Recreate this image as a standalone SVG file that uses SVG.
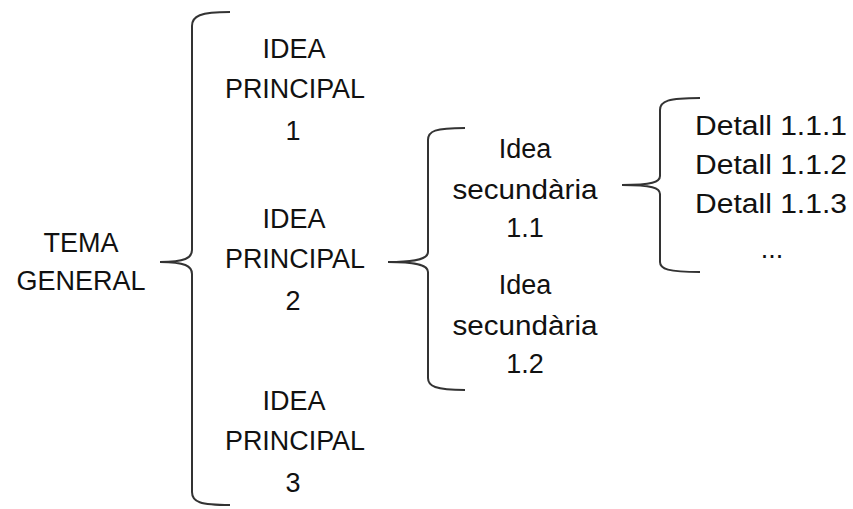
<svg xmlns="http://www.w3.org/2000/svg" width="853" height="509" viewBox="0 0 853 509">
<style>
text{font-family:"Liberation Sans",Arial,sans-serif;font-size:27px;fill:#111;text-anchor:middle}
.br{fill:none;stroke:#333;stroke-width:2}
</style>
<rect width="853" height="509" fill="#fff"/>
<g id="connectors">
<path class="br" d="M230,12 C200,12 192,16 192,26 L192,250 C192,258 185,262 160,262 C185,262 192,266 192,274 L192,492 C192,502 200,505 230,505"/>
<path class="br" d="M465,128 C435,128 428,131 428,140 L428,252 C428,258 420,262 388,262 C420,262 428,266 428,272 L428,378 C428,386 435,390 465,390"/>
<path class="br" d="M700,98 C668,98 660,101 660,110 L660,176 C660,182 652,185 622,185 C652,185 660,188 660,194 L660,262 C660,269 668,272 700,272"/>
</g>
<g id="tema"><text x="81" y="252">TEMA</text><text x="81" y="290">GENERAL</text></g>
<g id="idea1"><text x="294" y="58">IDEA</text><text x="295" y="98" textLength="140" lengthAdjust="spacingAndGlyphs">PRINCIPAL</text><text x="293" y="140">1</text></g>
<g id="idea2"><text x="294" y="228">IDEA</text><text x="295" y="268" textLength="140" lengthAdjust="spacingAndGlyphs">PRINCIPAL</text><text x="293" y="310">2</text></g>
<g id="idea3"><text x="294" y="410">IDEA</text><text x="295" y="450" textLength="140" lengthAdjust="spacingAndGlyphs">PRINCIPAL</text><text x="293" y="492">3</text></g>
<g id="sec11"><text x="525" y="158">Idea</text><text x="525" y="199" textLength="145" lengthAdjust="spacingAndGlyphs">secundària</text><text x="525" y="237">1.1</text></g>
<g id="sec12"><text x="525" y="294">Idea</text><text x="525" y="335" textLength="145" lengthAdjust="spacingAndGlyphs">secundària</text><text x="525" y="373">1.2</text></g>
<g id="detalls"><text x="771" y="135" textLength="152" lengthAdjust="spacingAndGlyphs">Detall 1.1.1</text><text x="771" y="174" textLength="152" lengthAdjust="spacingAndGlyphs">Detall 1.1.2</text><text x="771" y="213" textLength="152" lengthAdjust="spacingAndGlyphs">Detall 1.1.3</text><text x="772" y="258">...</text></g>
</svg>
